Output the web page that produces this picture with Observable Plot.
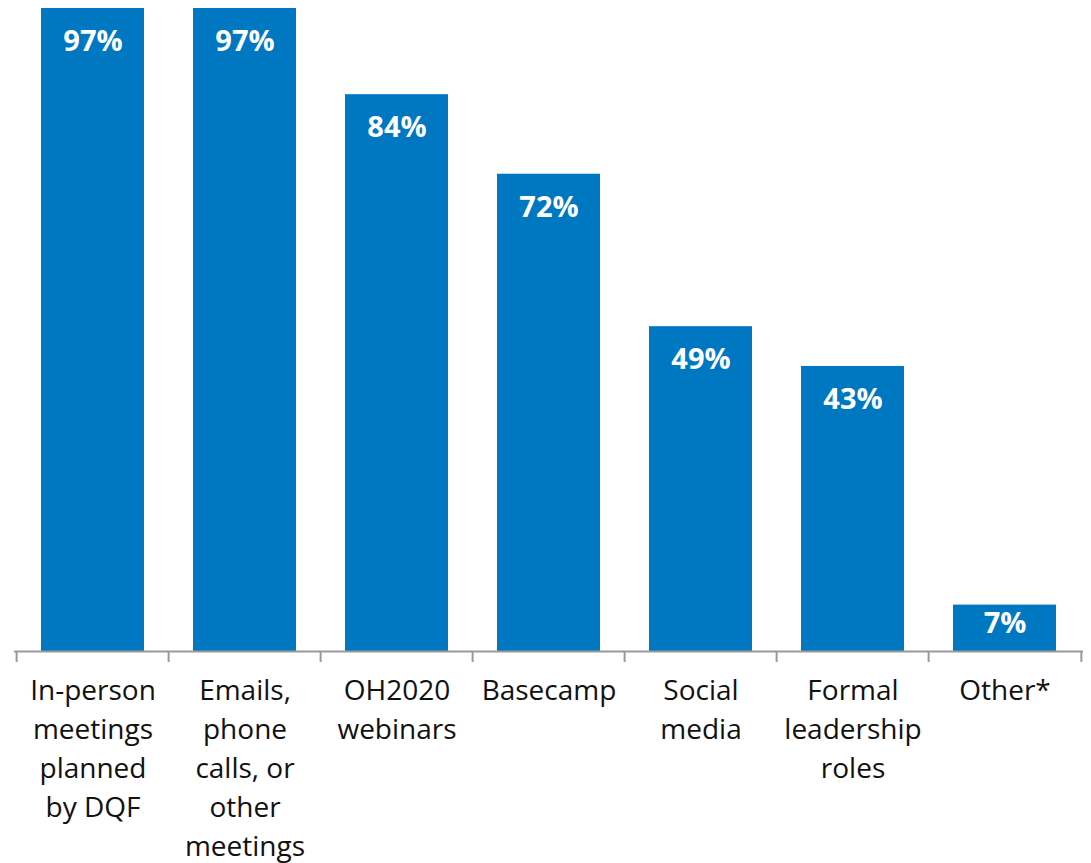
<!DOCTYPE html>
<html>
<head>
<meta charset="utf-8">
<script src="https://cdn.jsdelivr.net/npm/d3@7"></script>
<script src="https://cdn.jsdelivr.net/npm/@observablehq/plot@0.6"></script>
<style>
  html, body { margin: 0; padding: 0; background: #fff; }
  #chart svg { display: block; }
</style>
</head>
<body>
<div id="chart"></div>
<script>
const categories = ["In-person meetings planned by DQF", "Emails, phone calls, or other meetings", "OH2020 webinars", "Basecamp", "Social media", "Formal leadership roles", "Other*"];
const tickLabels = ["In-person\nmeetings\nplanned\nby DQF", "Emails,\nphone\ncalls, or\nother\nmeetings", "OH2020\nwebinars", "Basecamp", "Social\nmedia", "Formal\nleadership\nroles", "Other*"];
const values = [97, 97, 84, 72, 49, 43, 7];

const data = categories.map((c, i) => ({category: c, value: values[i]}));
const W = 1091, H = 863, ML = 14, MR = 8, MT = 8, MB = 212;
const step = (W - ML - MR) / categories.length;
const blue = "#0077C1";
const font = "'Open Sans', sans-serif";

const chart = Plot.plot({
  width: W,
  height: H,
  marginLeft: ML,
  marginRight: MR,
  marginTop: MT,
  marginBottom: MB,
  style: {fontFamily: font, background: "#fff"},
  x: {domain: categories, paddingInner: 0.325, paddingOuter: 0.1625, align: 0.5, label: null},
  y: {domain: [0, 97], label: null, axis: null},
  marks: [
    Plot.barY(data, {x: "category", y: "value", fill: blue}),
    Plot.ruleY([0], {stroke: "#999", strokeWidth: 2}),
    Plot.ruleX(categories, {x: d => d, dx: -step / 2, y1: 0, y2: -1.65, stroke: "#999", strokeWidth: 2}),
    Plot.ruleX(categories.slice(-1), {x: d => d, dx: step / 2, y1: 0, y2: -1.65, stroke: "#999", strokeWidth: 2}),
    Plot.text(data, {x: "category", y: d => Math.max(d.value - 5, d.value * 0.6), text: d => d.value + "%", fill: "#fff", fontWeight: "bold", fontSize: 29, fontFamily: font}),
    Plot.axisX({
      tickSize: 0,
      tickPadding: 21,
      tickFormat: d => tickLabels[categories.indexOf(d)],
      fontSize: 28,
      lineHeight: 1.39,
      fill: "#111",
      label: null
    })
  ]
});
document.getElementById("chart").appendChild(chart);
</script>
</body>
</html>
